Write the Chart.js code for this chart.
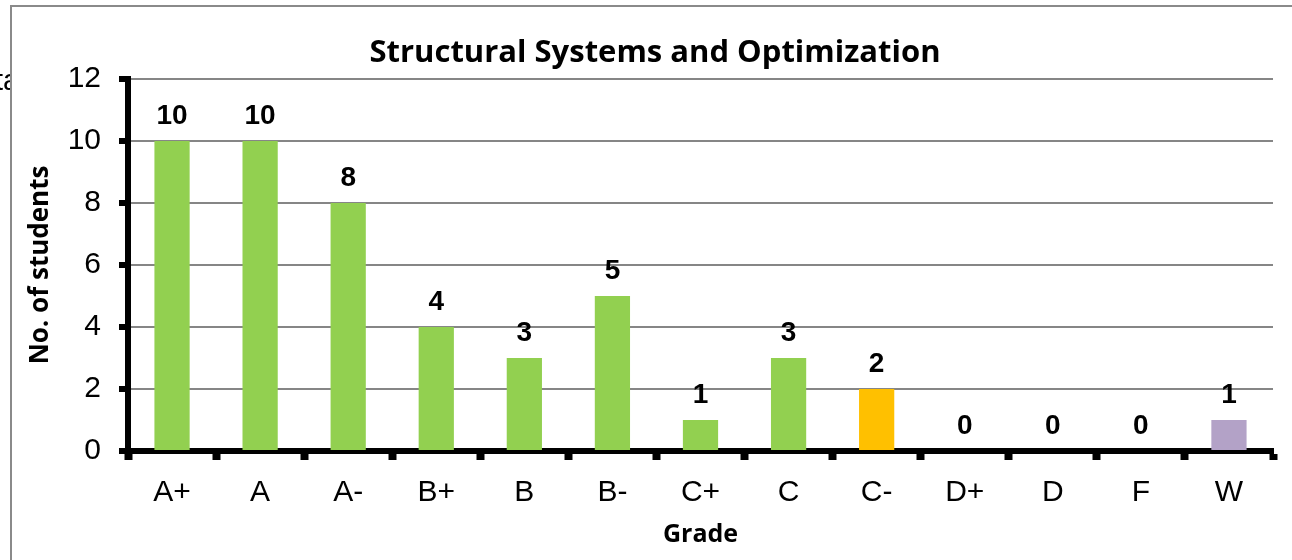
<!DOCTYPE html>
<html>
<head>
<meta charset="utf-8">
<script src="https://cdn.jsdelivr.net/npm/chart.js@4"></script>
<style>
	html, body { margin: 0; padding: 0; background: #fff; }
	#wrap { width: 1292px; height: 560px; }
</style>
</head>
<body>
<div id="wrap"><canvas id="grade-graph"></canvas></div>
<script>
'use strict';

const grades = ['A+', 'A', 'A-', 'B+', 'B', 'B-', 'C+', 'C', 'C-', 'D+', 'D', 'F', 'W'];
const students = [10, 10, 8, 4, 3, 5, 1, 3, 2, 0, 0, 0, 1];
const yMax = 12;
const yStep = 2;

const chartTitle = 'Structural Systems and Optimization';
const xTitle = 'Grade';
const yTitle = 'No. of students';

const plainFont = '"Liberation Sans", Arial, sans-serif';
const titleFont = '"Open Sans", Lato, sans-serif';

function barColour(grade) {
	if (grade === 'C-') return '#FFC000';
	if (grade === 'W') return '#B3A2C7';
	return '#92D050';
}

// frame, clipped text at the left edge, title and value labels
const extras = {
	id: 'extras',
	beforeDraw(chart) {
		let ctx = chart.ctx;
		ctx.save();
		ctx.fillStyle = '#fff';
		ctx.fillRect(0, 0, chart.width, chart.height);

		ctx.fillStyle = '#000';
		ctx.font = `29px ${plainFont}`;
		ctx.textAlign = 'left';
		ctx.textBaseline = 'alphabetic';
		ctx.fillText('ta', -5, 90);

		ctx.fillStyle = '#fff';
		ctx.fillRect(12, 7, chart.width, chart.height);

		ctx.strokeStyle = '#8a8a8a';
		ctx.lineWidth = 2;
		ctx.beginPath();
		ctx.moveTo(11, chart.height);
		ctx.lineTo(11, 6);
		ctx.lineTo(chart.width, 6);
		ctx.stroke();

		ctx.fillStyle = '#000';
		ctx.font = `bold 31px ${titleFont}`;
		ctx.textAlign = 'center';
		ctx.textBaseline = 'middle';
		ctx.fillText(chartTitle, 655, 53);
		ctx.restore();
	},
	afterDatasetsDraw(chart) {
		let ctx = chart.ctx;
		let meta = chart.getDatasetMeta(0);
		ctx.save();
		ctx.fillStyle = '#000';
		ctx.font = `bold 28px ${plainFont}`;
		ctx.textAlign = 'center';
		ctx.textBaseline = 'alphabetic';
		meta.data.forEach((bar, i) => {
			ctx.fillText(String(students[i]), bar.x, bar.y - 17);
		});
		ctx.restore();
	}
};

let ctx = document.getElementById('grade-graph');
let chart = new Chart(ctx, {
	type: 'bar',
	data: {
		labels: grades,
		datasets: [
			{
				data: students,
				backgroundColor: grades.map(barColour),
				borderWidth: 0,
				barPercentage: 0.4,
				categoryPercentage: 1
			}
		]
	},
	options: {
		responsive: true,
		maintainAspectRatio: false,
		animation: false,
		devicePixelRatio: 1,
		layout: {
			padding: { left: 20, right: 19, top: 79, bottom: 0 }
		},
		plugins: {
			legend: { display: false },
			tooltip: { enabled: false },
			title: { display: false }
		},
		scales: {
			x: {
				z: 1,
				afterFit: (scale) => { scale.height = 109; },
				grid: {
					offset: true,
					drawOnChartArea: false,
					drawTicks: true,
					tickLength: 9,
					tickWidth: 8,
					tickColor: '#000'
				},
				border: { color: '#000', width: 6 },
				ticks: {
					color: '#000',
					padding: 15,
					font: { family: plainFont, size: 30 }
				},
				title: {
					display: true,
					text: xTitle,
					color: '#000',
					padding: { top: 0, bottom: 10 },
					font: { family: titleFont, size: 25, weight: 'bold' }
				}
			},
			y: {
				min: 0,
				max: yMax,
				afterFit: (scale) => { scale.width = 108; },
				grid: {
					color: '#868686',
					lineWidth: 2,
					drawTicks: true,
					tickLength: 9,
					tickWidth: 6,
					tickColor: '#000'
				},
				border: { color: '#000', width: 6 },
				ticks: {
					stepSize: yStep,
					color: '#000',
					padding: 18,
					font: { family: plainFont, size: 30 }
				},
				title: {
					display: true,
					text: yTitle,
					color: '#000',
					padding: { top: 5, bottom: 0 },
					font: { family: titleFont, size: 26, weight: 'bold' }
				}
			}
		}
	},
	plugins: [extras]
});
</script>
</body>
</html>
